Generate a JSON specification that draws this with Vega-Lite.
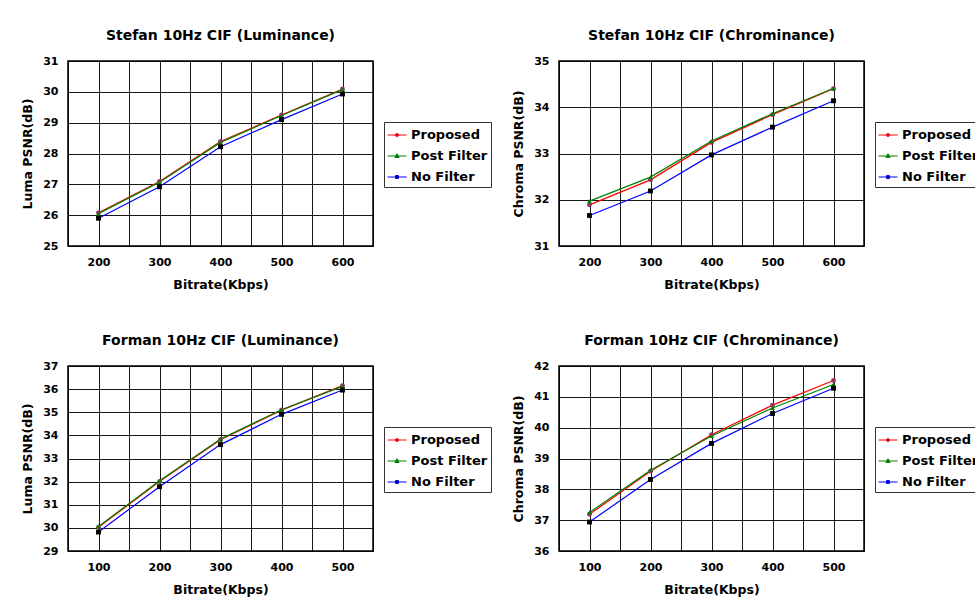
{
  "$schema": "https://vega.github.io/schema/vega-lite/v6.json",
  "background": "white",
  "padding": {"left": 20, "top": 28, "right": 0, "bottom": 0},
  "config": {
    "font": "DejaVu Sans",
    "view": {"stroke": "#000000", "strokeWidth": 1.5},
    "title": {"font": "DejaVu Sans", "fontSize": 14, "fontWeight": "bold", "color": "#000000", "offset": 12, "anchor": "middle"},
    "axis": {
      "labelFont": "DejaVu Sans", "labelFontSize": 11, "labelFontWeight": "bold", "labelColor": "#000000",
      "titleFont": "DejaVu Sans", "titleFontSize": 12.5, "titleFontWeight": "bold", "titleColor": "#000000",
      "domain": false, "ticks": false, "grid": true, "gridColor": "#000000", "gridWidth": 1, "gridOpacity": 0.9,
      "labelPadding": 10
    },
    "axisX": {"titlePadding": 11, "labelAngle": 0},
    "axisY": {"titlePadding": 8},
    "legend": {
      "orient": "none", "legendX": 316, "legendY": 61,
      "title": null, "strokeColor": "#333333", "fillColor": "#ffffff", "padding": 3,
      "labelFont": "DejaVu Sans", "labelFontSize": 13, "labelFontWeight": "bold", "labelColor": "#000000",
      "symbolSize": 361, "symbolStrokeWidth": 1, "rowPadding": 4, "labelOffset": 4
    }
  },
  "data": {"values": [
    {"chart": "SL", "bitrate": 200, "series": "Proposed", "psnr": 26.08},
    {"chart": "SL", "bitrate": 300, "series": "Proposed", "psnr": 27.09},
    {"chart": "SL", "bitrate": 400, "series": "Proposed", "psnr": 28.39},
    {"chart": "SL", "bitrate": 500, "series": "Proposed", "psnr": 29.25},
    {"chart": "SL", "bitrate": 600, "series": "Proposed", "psnr": 30.09},
    {"chart": "SL", "bitrate": 200, "series": "Post Filter", "psnr": 26.05},
    {"chart": "SL", "bitrate": 300, "series": "Post Filter", "psnr": 27.07},
    {"chart": "SL", "bitrate": 400, "series": "Post Filter", "psnr": 28.36},
    {"chart": "SL", "bitrate": 500, "series": "Post Filter", "psnr": 29.23},
    {"chart": "SL", "bitrate": 600, "series": "Post Filter", "psnr": 30.07},
    {"chart": "SL", "bitrate": 200, "series": "No Filter", "psnr": 25.9},
    {"chart": "SL", "bitrate": 300, "series": "No Filter", "psnr": 26.92},
    {"chart": "SL", "bitrate": 400, "series": "No Filter", "psnr": 28.22},
    {"chart": "SL", "bitrate": 500, "series": "No Filter", "psnr": 29.1},
    {"chart": "SL", "bitrate": 600, "series": "No Filter", "psnr": 29.93},
    {"chart": "SC", "bitrate": 200, "series": "Proposed", "psnr": 31.89},
    {"chart": "SC", "bitrate": 300, "series": "Proposed", "psnr": 32.43},
    {"chart": "SC", "bitrate": 400, "series": "Proposed", "psnr": 33.24},
    {"chart": "SC", "bitrate": 500, "series": "Proposed", "psnr": 33.84},
    {"chart": "SC", "bitrate": 600, "series": "Proposed", "psnr": 34.4},
    {"chart": "SC", "bitrate": 200, "series": "Post Filter", "psnr": 31.97},
    {"chart": "SC", "bitrate": 300, "series": "Post Filter", "psnr": 32.49},
    {"chart": "SC", "bitrate": 400, "series": "Post Filter", "psnr": 33.27},
    {"chart": "SC", "bitrate": 500, "series": "Post Filter", "psnr": 33.86},
    {"chart": "SC", "bitrate": 600, "series": "Post Filter", "psnr": 34.41},
    {"chart": "SC", "bitrate": 200, "series": "No Filter", "psnr": 31.66},
    {"chart": "SC", "bitrate": 300, "series": "No Filter", "psnr": 32.19},
    {"chart": "SC", "bitrate": 400, "series": "No Filter", "psnr": 32.97},
    {"chart": "SC", "bitrate": 500, "series": "No Filter", "psnr": 33.57},
    {"chart": "SC", "bitrate": 600, "series": "No Filter", "psnr": 34.14},
    {"chart": "FL", "bitrate": 100, "series": "Proposed", "psnr": 30.03},
    {"chart": "FL", "bitrate": 200, "series": "Proposed", "psnr": 32.0},
    {"chart": "FL", "bitrate": 300, "series": "Proposed", "psnr": 33.81},
    {"chart": "FL", "bitrate": 400, "series": "Proposed", "psnr": 35.09},
    {"chart": "FL", "bitrate": 500, "series": "Proposed", "psnr": 36.15},
    {"chart": "FL", "bitrate": 100, "series": "Post Filter", "psnr": 30.06},
    {"chart": "FL", "bitrate": 200, "series": "Post Filter", "psnr": 32.04},
    {"chart": "FL", "bitrate": 300, "series": "Post Filter", "psnr": 33.84},
    {"chart": "FL", "bitrate": 400, "series": "Post Filter", "psnr": 35.11},
    {"chart": "FL", "bitrate": 500, "series": "Post Filter", "psnr": 36.12},
    {"chart": "FL", "bitrate": 100, "series": "No Filter", "psnr": 29.82},
    {"chart": "FL", "bitrate": 200, "series": "No Filter", "psnr": 31.78},
    {"chart": "FL", "bitrate": 300, "series": "No Filter", "psnr": 33.6},
    {"chart": "FL", "bitrate": 400, "series": "No Filter", "psnr": 34.91},
    {"chart": "FL", "bitrate": 500, "series": "No Filter", "psnr": 35.96},
    {"chart": "FC", "bitrate": 100, "series": "Proposed", "psnr": 37.19},
    {"chart": "FC", "bitrate": 200, "series": "Proposed", "psnr": 38.59},
    {"chart": "FC", "bitrate": 300, "series": "Proposed", "psnr": 39.77},
    {"chart": "FC", "bitrate": 400, "series": "Proposed", "psnr": 40.73},
    {"chart": "FC", "bitrate": 500, "series": "Proposed", "psnr": 41.53},
    {"chart": "FC", "bitrate": 100, "series": "Post Filter", "psnr": 37.25},
    {"chart": "FC", "bitrate": 200, "series": "Post Filter", "psnr": 38.62},
    {"chart": "FC", "bitrate": 300, "series": "Post Filter", "psnr": 39.73},
    {"chart": "FC", "bitrate": 400, "series": "Post Filter", "psnr": 40.64},
    {"chart": "FC", "bitrate": 500, "series": "Post Filter", "psnr": 41.4},
    {"chart": "FC", "bitrate": 100, "series": "No Filter", "psnr": 36.94},
    {"chart": "FC", "bitrate": 200, "series": "No Filter", "psnr": 38.32},
    {"chart": "FC", "bitrate": 300, "series": "No Filter", "psnr": 39.49},
    {"chart": "FC", "bitrate": 400, "series": "No Filter", "psnr": 40.46},
    {"chart": "FC", "bitrate": 500, "series": "No Filter", "psnr": 41.28}
  ]},
  "columns": 2,
  "spacing": {"column": 18, "row": 41},
  "resolve": {
    "scale": {"x": "independent", "y": "independent", "color": "independent"},
    "legend": {"color": "independent"}
  },
  "concat": [
    {
      "title": "Stefan 10Hz CIF (Luminance)",
      "width": 305, "height": 185,
      "transform": [{"filter": "datum.chart === 'SL'"}],
      "encoding": {
        "x": {"field": "bitrate", "type": "quantitative", "scale": {"domain": [150, 650]},
          "axis": {"title": "Bitrate(Kbps)", "values": [150, 200, 250, 300, 350, 400, 450, 500, 550, 600, 650], "labelExpr": "datum.value % 100 === 0 ? datum.label : ''"}},
        "y": {"field": "psnr", "type": "quantitative", "scale": {"domain": [25, 31]},
          "axis": {"title": "Luma PSNR(dB)", "values": [25, 26, 27, 28, 29, 30, 31]}}
      },
      "layer": [
        {"mark": {"type": "line", "strokeWidth": 1.2},
         "encoding": {"color": {"field": "series", "type": "nominal",
           "scale": {"domain": ["Proposed", "Post Filter", "No Filter"], "range": ["#FF0000", "#008000", "#0000FF"]},
           "legend": {"encode": {"symbols": {"update": {
             "shape": {"signal": "datum.value === 'Proposed' ? 'M-1,0H1M0.17,0A0.17,0.17,0,1,1,-0.17,0A0.17,0.17,0,1,1,0.17,0Z' : datum.value === 'Post Filter' ? 'M-1,0H1M0,-0.24L0.22,0.16H-0.22Z' : 'M-1,0H1M-0.15,-0.15H0.15V0.15H-0.15Z'"},
             "fill": {"signal": "datum.value === 'Proposed' ? '#993366' : datum.value === 'Post Filter' ? '#008000' : '#000000'"},
             "fillOpacity": {"value": 1}}}}}}}},
        {"mark": {"type": "point", "filled": true, "opacity": 1, "size": 24, "strokeWidth": 0},
         "encoding": {
           "fill": {"condition": [{"test": "datum.series === 'Proposed'", "value": "#993366"}, {"test": "datum.series === 'Post Filter'", "value": "#008000"}], "value": "#000000"},
           "shape": {"condition": [{"test": "datum.series === 'Proposed'", "value": "circle"}, {"test": "datum.series === 'Post Filter'", "value": "triangle-up"}], "value": "square"}}}
      ]
    },
    {
      "title": "Stefan 10Hz CIF (Chrominance)",
      "width": 305, "height": 185,
      "transform": [{"filter": "datum.chart === 'SC'"}],
      "encoding": {
        "x": {"field": "bitrate", "type": "quantitative", "scale": {"domain": [150, 650]},
          "axis": {"title": "Bitrate(Kbps)", "values": [150, 200, 250, 300, 350, 400, 450, 500, 550, 600, 650], "labelExpr": "datum.value % 100 === 0 ? datum.label : ''"}},
        "y": {"field": "psnr", "type": "quantitative", "scale": {"domain": [31, 35]},
          "axis": {"title": "Chroma PSNR(dB)", "values": [31, 32, 33, 34, 35]}}
      },
      "layer": [
        {"mark": {"type": "line", "strokeWidth": 1.2},
         "encoding": {"color": {"field": "series", "type": "nominal",
           "scale": {"domain": ["Proposed", "Post Filter", "No Filter"], "range": ["#FF0000", "#008000", "#0000FF"]},
           "legend": {"encode": {"symbols": {"update": {
             "shape": {"signal": "datum.value === 'Proposed' ? 'M-1,0H1M0.17,0A0.17,0.17,0,1,1,-0.17,0A0.17,0.17,0,1,1,0.17,0Z' : datum.value === 'Post Filter' ? 'M-1,0H1M0,-0.24L0.22,0.16H-0.22Z' : 'M-1,0H1M-0.15,-0.15H0.15V0.15H-0.15Z'"},
             "fill": {"signal": "datum.value === 'Proposed' ? '#993366' : datum.value === 'Post Filter' ? '#008000' : '#000000'"},
             "fillOpacity": {"value": 1}}}}}}}},
        {"mark": {"type": "point", "filled": true, "opacity": 1, "size": 24, "strokeWidth": 0},
         "encoding": {
           "fill": {"condition": [{"test": "datum.series === 'Proposed'", "value": "#993366"}, {"test": "datum.series === 'Post Filter'", "value": "#008000"}], "value": "#000000"},
           "shape": {"condition": [{"test": "datum.series === 'Proposed'", "value": "circle"}, {"test": "datum.series === 'Post Filter'", "value": "triangle-up"}], "value": "square"}}}
      ]
    },
    {
      "title": "Forman 10Hz CIF (Luminance)",
      "width": 305, "height": 185,
      "transform": [{"filter": "datum.chart === 'FL'"}],
      "encoding": {
        "x": {"field": "bitrate", "type": "quantitative", "scale": {"domain": [50, 550]},
          "axis": {"title": "Bitrate(Kbps)", "values": [50, 100, 150, 200, 250, 300, 350, 400, 450, 500, 550], "labelExpr": "datum.value % 100 === 0 ? datum.label : ''"}},
        "y": {"field": "psnr", "type": "quantitative", "scale": {"domain": [29, 37]},
          "axis": {"title": "Luma PSNR(dB)", "values": [29, 30, 31, 32, 33, 34, 35, 36, 37]}}
      },
      "layer": [
        {"mark": {"type": "line", "strokeWidth": 1.2},
         "encoding": {"color": {"field": "series", "type": "nominal",
           "scale": {"domain": ["Proposed", "Post Filter", "No Filter"], "range": ["#FF0000", "#008000", "#0000FF"]},
           "legend": {"encode": {"symbols": {"update": {
             "shape": {"signal": "datum.value === 'Proposed' ? 'M-1,0H1M0.17,0A0.17,0.17,0,1,1,-0.17,0A0.17,0.17,0,1,1,0.17,0Z' : datum.value === 'Post Filter' ? 'M-1,0H1M0,-0.24L0.22,0.16H-0.22Z' : 'M-1,0H1M-0.15,-0.15H0.15V0.15H-0.15Z'"},
             "fill": {"signal": "datum.value === 'Proposed' ? '#993366' : datum.value === 'Post Filter' ? '#008000' : '#000000'"},
             "fillOpacity": {"value": 1}}}}}}}},
        {"mark": {"type": "point", "filled": true, "opacity": 1, "size": 24, "strokeWidth": 0},
         "encoding": {
           "fill": {"condition": [{"test": "datum.series === 'Proposed'", "value": "#993366"}, {"test": "datum.series === 'Post Filter'", "value": "#008000"}], "value": "#000000"},
           "shape": {"condition": [{"test": "datum.series === 'Proposed'", "value": "circle"}, {"test": "datum.series === 'Post Filter'", "value": "triangle-up"}], "value": "square"}}}
      ]
    },
    {
      "title": "Forman 10Hz CIF (Chrominance)",
      "width": 305, "height": 185,
      "transform": [{"filter": "datum.chart === 'FC'"}],
      "encoding": {
        "x": {"field": "bitrate", "type": "quantitative", "scale": {"domain": [50, 550]},
          "axis": {"title": "Bitrate(Kbps)", "values": [50, 100, 150, 200, 250, 300, 350, 400, 450, 500, 550], "labelExpr": "datum.value % 100 === 0 ? datum.label : ''"}},
        "y": {"field": "psnr", "type": "quantitative", "scale": {"domain": [36, 42]},
          "axis": {"title": "Chroma PSNR(dB)", "values": [36, 37, 38, 39, 40, 41, 42]}}
      },
      "layer": [
        {"mark": {"type": "line", "strokeWidth": 1.2},
         "encoding": {"color": {"field": "series", "type": "nominal",
           "scale": {"domain": ["Proposed", "Post Filter", "No Filter"], "range": ["#FF0000", "#008000", "#0000FF"]},
           "legend": {"encode": {"symbols": {"update": {
             "shape": {"signal": "datum.value === 'Proposed' ? 'M-1,0H1M0.17,0A0.17,0.17,0,1,1,-0.17,0A0.17,0.17,0,1,1,0.17,0Z' : datum.value === 'Post Filter' ? 'M-1,0H1M0,-0.24L0.22,0.16H-0.22Z' : 'M-1,0H1M-0.15,-0.15H0.15V0.15H-0.15Z'"},
             "fill": {"signal": "datum.value === 'Proposed' ? '#993366' : datum.value === 'Post Filter' ? '#008000' : '#000000'"},
             "fillOpacity": {"value": 1}}}}}}}},
        {"mark": {"type": "point", "filled": true, "opacity": 1, "size": 24, "strokeWidth": 0},
         "encoding": {
           "fill": {"condition": [{"test": "datum.series === 'Proposed'", "value": "#993366"}, {"test": "datum.series === 'Post Filter'", "value": "#008000"}], "value": "#000000"},
           "shape": {"condition": [{"test": "datum.series === 'Proposed'", "value": "circle"}, {"test": "datum.series === 'Post Filter'", "value": "triangle-up"}], "value": "square"}}}
      ]
    }
  ]
}
